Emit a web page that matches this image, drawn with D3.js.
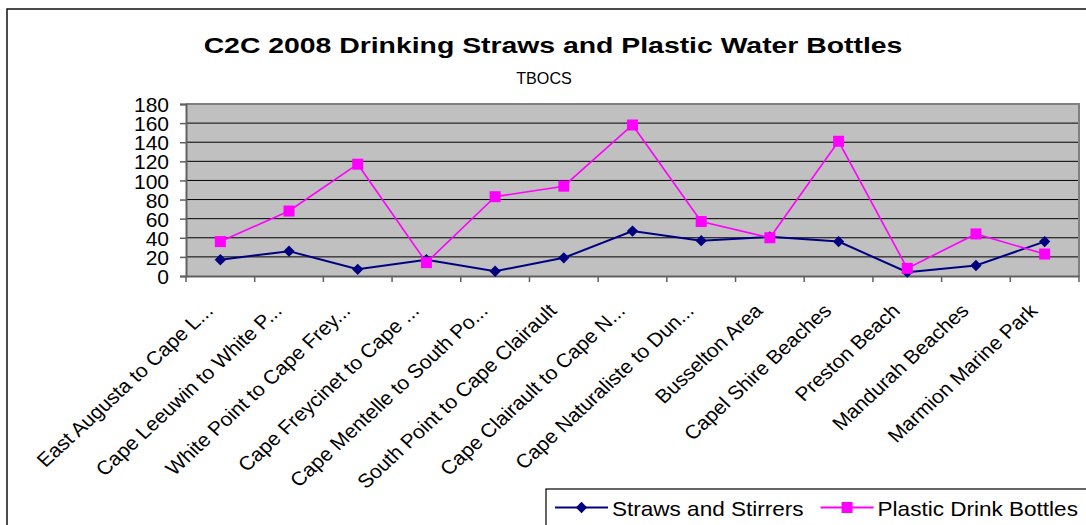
<!DOCTYPE html>
<html><head><meta charset="utf-8">
<script src="https://cdn.jsdelivr.net/npm/d3@7/dist/d3.min.js"></script>
<style>
html,body{margin:0;padding:0;background:#fff;}
svg{display:block;font-family:"Liberation Sans",Arial,sans-serif;}
</style></head>
<body>
<svg id="chart" width="1086" height="525"></svg>
<script>
const categories = ["East Augusta to Cape L...", "Cape Leeuwin to White P...", "White Point to Cape Frey...", "Cape Freycinet to Cape ...", "Cape Mentelle to South Po...", "South Point to Cape Clairault", "Cape Clairault to Cape N...", "Cape Naturaliste to Dun...", "Busselton Area", "Capel Shire Beaches", "Preston Beach", "Mandurah Beaches", "Marmion Marine Park"];
const strawsValues = [17, 26, 7, 17, 5, 19, 47, 37, 41, 36, 4, 11, 36];
const bottlesValues = [36, 68, 117, 14, 83, 94, 158, 57, 40, 141, 8, 44, 23];
const yTicks = [0, 20, 40, 60, 80, 100, 120, 140, 160, 180];
const seriesNames = ["Straws and Stirrers", "Plastic Drink Bottles"];
const titleText = "C2C 2008 Drinking Straws and Plastic Water Bottles";
const subtitleText = "TBOCS";

const svg = d3.select("#chart");
const W = 1086, H = 525;
const plot = {left: 186, right: 1079, top: 104, bottom: 276};

// outer chart frame
svg.append("path")
  .attr("d", `M7,${H + 5} L7,9 L${W + 5},9`)
  .attr("fill", "none").attr("stroke", "#111").attr("stroke-width", 1.5);

const x = d3.scaleBand().domain(categories).range([plot.left, plot.right]).padding(0);
const y = d3.scaleLinear().domain([0, 180]).range([plot.bottom, plot.top]);
const cx = c => x(c) + x.bandwidth() / 2;

// plot area
svg.append("rect")
  .attr("x", plot.left).attr("y", plot.top)
  .attr("width", plot.right - plot.left).attr("height", plot.bottom - plot.top)
  .attr("fill", "#c0c0c0");

// gridlines
svg.append("g").selectAll("line").data(yTicks.filter(t => t > 0 && t < 180)).join("line")
  .attr("x1", plot.left).attr("x2", plot.right)
  .attr("y1", d => y(d)).attr("y2", d => y(d))
  .attr("stroke", "#000").attr("stroke-width", 1);

// border top/right
svg.append("path")
  .attr("d", `M${plot.left},${plot.top} L${plot.right},${plot.top} L${plot.right},${plot.bottom}`)
  .attr("fill", "none").attr("stroke", "#808080").attr("stroke-width", 2);

// y axis
const yAxis = d3.axisLeft(y).tickValues(yTicks).tickSize(6).tickPadding(11).tickFormat(d3.format("d"));
const gy = svg.append("g").attr("transform", `translate(${plot.left},0)`).call(yAxis);
gy.select(".domain").attr("stroke", "#606060").attr("stroke-width", 2);
gy.selectAll(".tick line").attr("stroke", "#606060").attr("stroke-width", 1.5);
gy.selectAll(".tick text")
  .attr("font-size", 21).attr("font-family", "'Liberation Sans', Arial, sans-serif")
  .attr("fill", "#000").attr("dy", "0.36em");

// x axis
const xAxis = d3.axisBottom(x).tickSize(0).tickFormat("");
const gx = svg.append("g").attr("transform", `translate(0,${plot.bottom})`).call(xAxis);
gx.select(".domain").attr("stroke", "#606060").attr("stroke-width", 2);
gx.selectAll(".tick").remove();
// category boundary ticks
svg.append("g").selectAll("line").data(categories.concat(["__end"])).join("line")
  .attr("x1", (d, i) => i < categories.length ? x(d) : plot.right)
  .attr("x2", (d, i) => i < categories.length ? x(d) : plot.right)
  .attr("y1", plot.bottom).attr("y2", plot.bottom + 6)
  .attr("stroke", "#606060").attr("stroke-width", 1.5);

// x labels
svg.append("g").selectAll("text").data(categories).join("text")
  .attr("transform", d => `translate(${cx(d) - 6},${plot.bottom + 36}) scale(1.08,1) rotate(-45)`)
  .attr("text-anchor", "end")
  .attr("font-size", 19.5)
  .attr("fill", "#000")
  .text(d => d);

// lines
const line = d3.line().x((d, i) => cx(categories[i])).y(d => y(d));
svg.append("path").datum(strawsValues).attr("d", line)
  .attr("fill", "none").attr("stroke", "#000080").attr("stroke-width", 2);
svg.append("path").datum(bottlesValues).attr("d", line)
  .attr("fill", "none").attr("stroke", "#ff00ff").attr("stroke-width", 1.6);

svg.append("g").selectAll("path").data(strawsValues).join("path")
  .attr("transform", (d, i) => `translate(${cx(categories[i])},${y(d)}) rotate(45)`)
  .attr("d", d3.symbol().type(d3.symbolSquare).size(64))
  .attr("fill", "#000080");
svg.append("g").selectAll("rect").data(bottlesValues).join("rect")
  .attr("x", (d, i) => cx(categories[i]) - 5.5)
  .attr("y", d => y(d) - 5.5)
  .attr("width", 11).attr("height", 11)
  .attr("fill", "#ff00ff");

// title
svg.append("text")
  .attr("transform", `translate(553,52.5) scale(1.29,1)`)
  .attr("text-anchor", "middle").attr("font-size", 22).attr("font-weight", "bold")
  .attr("fill", "#000").text(titleText);
svg.append("text")
  .attr("transform", `translate(544,84) scale(0.95,1)`)
  .attr("text-anchor", "middle").attr("font-size", 17)
  .attr("fill", "#000").text(subtitleText);

// legend
const lg = svg.append("g");
lg.append("rect").attr("x", 546).attr("y", 489).attr("width", 600).attr("height", 80)
  .attr("fill", "#fff").attr("stroke", "#000").attr("stroke-width", 1.2);
const colors = ["#000080", "#ff00ff"];
let lx = 555;
const ly = 507.5;
seriesNames.forEach((name, i) => {
  lg.append("line").attr("x1", lx).attr("x2", lx + 53).attr("y1", ly).attr("y2", ly)
    .attr("stroke", colors[i]).attr("stroke-width", 2);
  if (i === 0) {
    lg.append("path").attr("transform", `translate(${lx + 26.5},${ly}) rotate(45)`)
      .attr("d", d3.symbol().type(d3.symbolSquare).size(64)).attr("fill", colors[i]);
  } else {
    lg.append("rect").attr("x", lx + 26.5 - 5.5).attr("y", ly - 5.5).attr("width", 11).attr("height", 11)
      .attr("fill", colors[i]);
  }
  const t = lg.append("text")
    .attr("transform", `translate(${lx + 57},${ly + 8}) scale(1.1,1)`)
    .attr("font-size", 20.5).attr("fill", "#000").text(name);
  const w = t.node().getComputedTextLength() * 1.1;
  lx = lx + 57 + w + 17;
});
</script>
</body></html>
